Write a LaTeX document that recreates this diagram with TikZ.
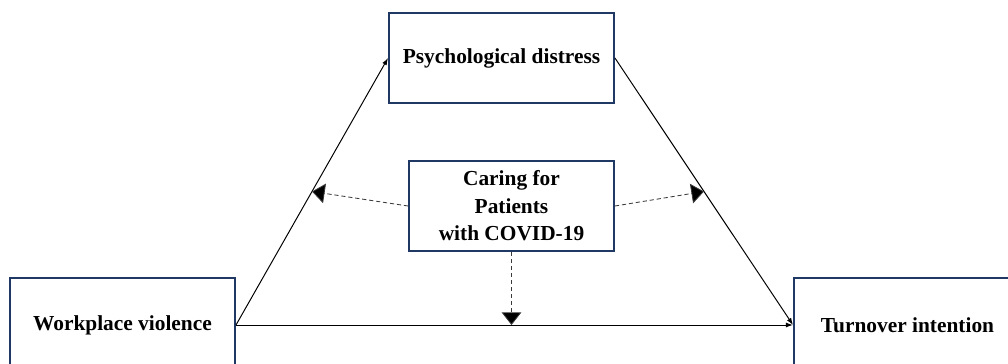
\documentclass[tikz,border=0pt]{standalone}
\usepackage{fontspec}
\setmainfont{Liberation Serif}
\usepackage{tikz}
\usetikzlibrary{arrows.meta, positioning, calc}
\usepackage{xcolor}
\definecolor{boxnavy}{HTML}{1F3864}
\definecolor{modgray}{HTML}{3A3A3A}

\begin{document}
\begin{tikzpicture}[x=0.025cm, y=-0.025cm,
    varbox/.style={draw=boxnavy, line width=1.4pt, fill=white, inner sep=0pt,
      align=center, font=\fontsize{15.2pt}{19.5pt}\selectfont\bfseries},
    path/.style={line width=0.7pt, -{Latex[length=5pt, width=3.5pt]}},
    modpath/.style={modgray, line width=0.6pt, dash pattern=on 3pt off 2pt,
      -{Triangle[length=9pt, width=14pt, fill=black]}}]
    \clip (0,0) rectangle (1008,363);
    \node[varbox, minimum width=225*0.025cm, minimum height=90*0.025cm] (pd) at (501.5, 58) {Psychological distress};
    \node[varbox, minimum width=205*0.025cm, minimum height=90*0.025cm] (cp) at (511.5, 206) {Caring for\\Patients\\with COVID-19};
    \node[varbox, minimum width=225*0.025cm, minimum height=94*0.025cm] (wv) at (122.5, 325) {Workplace violence};
    \node[varbox, minimum width=227*0.025cm, minimum height=94*0.025cm] (ti) at (907.5, 325) {Turnover intention};
    \draw[path] (wv.east) -- coordinate[pos=0.5] (ma) (pd.west);
    \draw[path] (pd.east) -- coordinate[pos=0.5] (mb) (ti.west);
    \draw[path] (wv.east) -- (ti.west);
    \coordinate (mc) at (cp.south |- wv.east);
    \draw[modpath] (cp.west) -- (ma);
    \draw[modpath] (cp.east) -- (mb);
    \draw[modpath] (cp.south) -- (mc);
\end{tikzpicture}
\end{document}
